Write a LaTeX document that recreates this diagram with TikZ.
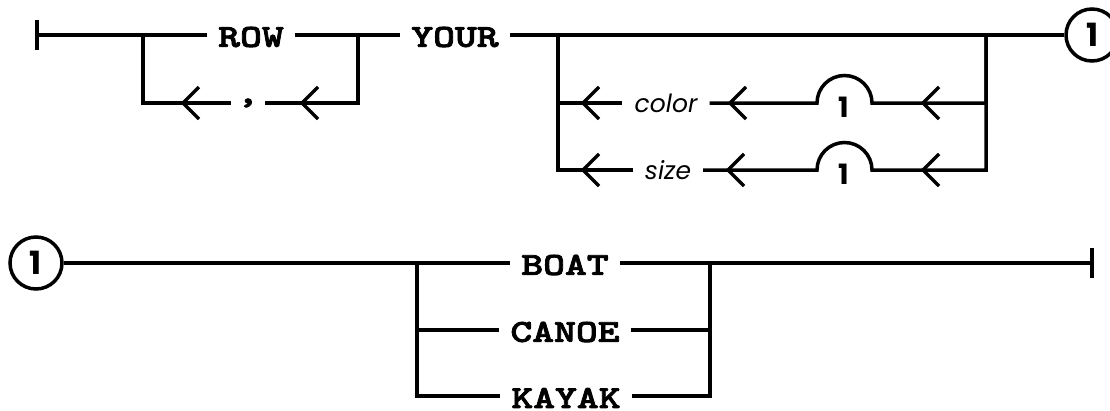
\documentclass[tikz,border=0pt]{standalone}
\usepackage{fontspec}
\newfontfamily\kwfont[FakeStretch=1.3, FakeBold=2.5]{lmmonolt10-bold.otf}
\newfontfamily\argfont{Poppins}
\usetikzlibrary{calc, positioning}

\tikzset{
  rail/.style={line width=3.5pt},
  kw/.style={font=\kwfont\fontsize{32}{32}\selectfont, inner xsep=11pt, inner ysep=0pt},
  argword/.style={font=\argfont\itshape\fontsize{25}{25}\selectfont, inner xsep=12pt, inner ysep=0pt},
  conn/.style={circle, draw, line width=3.5pt, minimum size=52pt, inner sep=0pt,
    font=\argfont\bfseries\fontsize{32}{32}\selectfont},
  humpnum/.style={inner sep=0pt, font=\argfont\bfseries\fontsize{28}{28}\selectfont},
  chev/.pic={\draw[rail, line join=miter] (16,-16) -- (0,0) -- (16,16);}
}

\begin{document}
\begin{tikzpicture}[x=1pt, y=-1pt]
\def\humpr{27.5}
\def\barh{15}
\useasboundingbox (0,0) rectangle (1110,410);

% upper rail
\coordinate (start) at (37,35);
\coordinate (rowin) at (143,35);
\coordinate (rowout) at (358,35);
\coordinate (yin) at (558,35);
\coordinate (yout) at (986,35);

\node[kw] (row) at (251,37) {ROW};
\node[kw] (your) at (455,37) {YOUR};
\node[kw, inner xsep=6pt] (comma) at (248,103) {,};
\node[conn] (c1) at (1092,35) {1};

\node[argword] (color) at (666,103) {color};
\node[argword] (size) at (668,170) {size};
\coordinate (hump1) at (844.5,103);
\coordinate (hump2) at (844.5,170);
\node[humpnum] (n1) at ($(hump1)+(-1,4)$) {1};
\node[humpnum] (n2) at ($(hump2)+(-1,4)$) {1};

\draw[rail] ($(start)+(0,-\barh)$) -- ($(start)+(0,\barh)$);
\draw[rail] (start) -- (start -| row.west);
\draw[rail] (start -| row.east) -- (start -| your.west);
\draw[rail] (start -| your.east) -- (c1.west);

\draw[rail] (rowin) |- (comma.west);
\draw[rail] (comma.east) -| (rowout);

\draw[rail] (yin) |- (color.west);
\draw[rail] (yin) |- (size.west);
\draw[rail] (color.east) -- ($(hump1)+(-\humpr,0)$)
  arc[start angle=180, end angle=360, radius=\humpr] -| (yout);
\draw[rail] (size.east) -- ($(hump2)+(-\humpr,0)$)
  arc[start angle=180, end angle=360, radius=\humpr] -| (yout);

\pic at (183,103) {chev};
\pic at (302,103) {chev};
\pic at (583,103) {chev};
\pic at (730,103) {chev};
\pic at (923,103) {chev};
\pic at (583,170) {chev};
\pic at (728,170) {chev};
\pic at (923,170) {chev};

% lower rail
\node[conn] (c2) at (36,263) {1};
\coordinate (bin) at (417,263);
\coordinate (bout) at (710,263);
\coordinate (finish) at (1092,263);

\node[kw] (boat) at (565,265) {BOAT};
\node[kw] (canoe) at (565,332) {CANOE};
\node[kw] (kayak) at (566,398) {KAYAK};

\draw[rail] (c2.east) -- (bin -| boat.west);
\draw[rail] (bin -| boat.east) -- (finish);
\draw[rail] ($(finish)+(0,-\barh)$) -- ($(finish)+(0,\barh)$);
\draw[rail] (bin) |- ($(canoe.west)+(0,-2)$);
\draw[rail] (bin) |- ($(kayak.west)+(0,-2)$);
\draw[rail] ($(canoe.east)+(0,-2)$) -| (bout);
\draw[rail] ($(kayak.east)+(0,-2)$) -| (bout);
\end{tikzpicture}
\end{document}
